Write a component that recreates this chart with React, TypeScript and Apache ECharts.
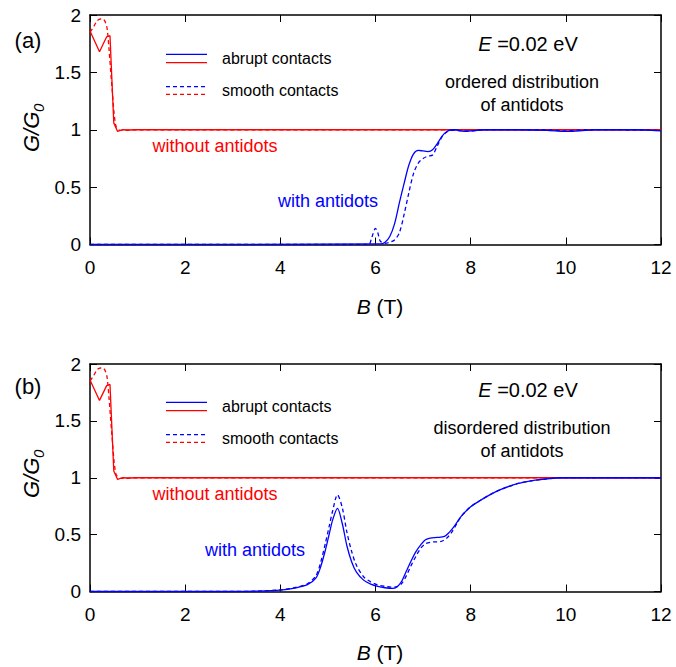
import React, { useEffect, useRef } from "react";
import * as echarts from "echarts";

// ---- data: panel (a) & (b) without antidots (identical in both panels) ----
const RED_SOLID_B = [0, 0.2, 0.35, 0.42, 0.5, 0.58, 0.68, 0.8, 1.0, 12];
const RED_SOLID_G = [1.86, 1.68, 1.81, 1.82, 1.06, 0.985, 1.0, 0.998, 1.0, 1.0];

const RED_DASH_B = [0, 0.08, 0.15, 0.22, 0.27, 0.32, 0.36, 0.4, 0.46, 0.54, 0.63, 0.75, 0.9, 1.2, 12];
const RED_DASH_G = [1.85, 1.9, 1.95, 1.965, 1.965, 1.94, 1.88, 1.7, 1.38, 1.04, 0.995, 0.995, 1.0, 1.0, 1.0];

// ---- panel (a): ordered antidots ----
const A_SOLID_B = [0, 6.1, 6.2, 6.3, 6.4, 6.5, 6.6, 6.7, 6.8, 6.9, 7.0, 7.1, 7.2, 7.3, 7.4, 7.5, 7.6, 7.7, 7.8, 7.9, 8.0, 8.3, 9.0, 9.6, 10.0, 10.3, 10.6, 11.5, 11.8, 12];
const A_SOLID_G = [0, 0.005, 0.02, 0.07, 0.18, 0.36, 0.53, 0.69, 0.79, 0.82, 0.815, 0.81, 0.825, 0.88, 0.945, 0.985, 1.0, 1.0, 0.99, 0.985, 0.99, 1.0, 1.0, 0.995, 0.985, 0.99, 1.0, 1.0, 0.995, 0.99];

const A_DASH_B = [0, 5.85, 5.92, 6.0, 6.05, 6.1, 6.2, 6.3, 6.4, 6.5, 6.6, 6.7, 6.8, 6.9, 7.0, 7.1, 7.2, 7.3, 7.4, 7.5, 7.6, 7.8, 8.0, 8.3, 9.6, 10.0, 10.4, 12];
const A_DASH_G = [0, 0, 0.06, 0.14, 0.1, 0.03, 0.01, 0.02, 0.04, 0.1, 0.26, 0.45, 0.62, 0.71, 0.75, 0.77, 0.78, 0.86, 0.94, 0.98, 0.995, 0.99, 0.99, 1.0, 1.0, 0.99, 1.0, 0.995];

// ---- panel (b): disordered antidots ----
const B_SOLID_B = [0, 3.0, 3.5, 4.0, 4.3, 4.57, 4.75, 4.85, 4.95, 5.03, 5.1, 5.2, 5.3, 5.4, 5.5, 5.6, 5.75, 5.9, 6.05, 6.2, 6.35, 6.45, 6.55, 6.65, 6.75, 6.85, 6.95, 7.05, 7.15, 7.3, 7.45, 7.55, 7.65, 7.8, 8.0, 8.2, 8.4, 8.65, 9.0, 9.3, 9.6, 9.9, 10.5, 12];
const B_SOLID_G = [0, 0.0, 0.003, 0.012, 0.03, 0.06, 0.12, 0.22, 0.37, 0.51, 0.63, 0.73, 0.6, 0.4, 0.26, 0.17, 0.1, 0.065, 0.045, 0.033, 0.027, 0.04, 0.09, 0.18, 0.27, 0.35, 0.41, 0.455, 0.47, 0.475, 0.485, 0.52, 0.57, 0.66, 0.745, 0.8, 0.85, 0.9, 0.95, 0.975, 0.99, 1.0, 1.0, 1.0];

const B_DASH_B = [0, 3.0, 3.5, 4.0, 4.3, 4.57, 4.75, 4.85, 4.95, 5.03, 5.1, 5.2, 5.3, 5.4, 5.5, 5.6, 5.75, 5.9, 6.05, 6.2, 6.33, 6.45, 6.55, 6.65, 6.75, 6.85, 6.95, 7.05, 7.2, 7.38, 7.5, 7.6, 7.7, 7.8, 8.0, 8.2, 8.4, 8.65, 9.0, 9.3, 9.6, 9.9, 10.5, 12];
const B_DASH_G = [0, 0.0, 0.003, 0.014, 0.034, 0.068, 0.14, 0.26, 0.43, 0.58, 0.71, 0.85, 0.74, 0.52, 0.35, 0.23, 0.13, 0.085, 0.058, 0.045, 0.038, 0.042, 0.07, 0.14, 0.23, 0.31, 0.38, 0.42, 0.435, 0.44, 0.47, 0.52, 0.59, 0.66, 0.745, 0.8, 0.85, 0.9, 0.95, 0.975, 0.99, 1.0, 1.0, 1.0];

const X_TICKS = [0, 2, 4, 6, 8, 10, 12];
const Y_TICKS = [0, 0.5, 1, 1.5, 2];

const FONT = "Liberation Sans, Arial, Helvetica, sans-serif";
const RED = "#ff0000";
const BLUE = "#0000ff";

function pairs(xs: number[], ys: number[]) {
  return xs.map((x, i) => [x, ys[i]]);
}

function buildOption() {
  const grids = [
    { left: 90, top: 15, width: 571, height: 229.5 },
    { left: 90, top: 364, width: 571, height: 227.5 },
  ];
  const axisLine = { show: true, onZero: false, lineStyle: { color: "#000", width: 1.5 } };
  const axisTick = { show: true, inside: true, length: 7, lineStyle: { color: "#000", width: 1 } };
  const xAxes: any[] = [];
  const yAxes: any[] = [];
  grids.forEach((_, gi) => {
    xAxes.push({
      gridIndex: gi, type: "value", min: X_TICKS[0], max: X_TICKS[X_TICKS.length - 1], interval: 2,
      position: "bottom", axisLine, axisTick, splitLine: { show: false },
      axisLabel: { color: "#000", fontSize: 19, fontFamily: FONT, margin: 13 },
    });
    xAxes.push({
      gridIndex: gi, type: "value", min: 0, max: 12, interval: 2,
      position: "top", axisLine, axisTick, splitLine: { show: false },
      axisLabel: { show: false },
    });
    yAxes.push({
      gridIndex: gi, type: "value", min: Y_TICKS[0], max: Y_TICKS[Y_TICKS.length - 1], interval: 0.5,
      position: "left", axisLine, axisTick, splitLine: { show: false },
      axisLabel: { color: "#000", fontSize: 19, fontFamily: FONT, margin: 9 },
    });
    yAxes.push({
      gridIndex: gi, type: "value", min: 0, max: 2, interval: 0.5,
      position: "right", axisLine, axisTick, splitLine: { show: false },
      axisLabel: { show: false },
    });
  });

  const line = (gi: number, data: number[][], color: string, dashed: boolean, smooth: number | boolean) => ({
    type: "line",
    xAxisIndex: gi * 2,
    yAxisIndex: gi * 2,
    data,
    showSymbol: false,
    symbol: "none",
    smooth,
    lineStyle: { color, width: 1.3, type: dashed ? [4, 3] : "solid" },
    z: 3,
  });

  const series = [
    line(0, pairs(RED_SOLID_B, RED_SOLID_G), RED, false, false),
    line(0, pairs(RED_DASH_B, RED_DASH_G), RED, true, 0.3),
    line(0, pairs(A_SOLID_B, A_SOLID_G), BLUE, false, 0.3),
    line(0, pairs(A_DASH_B, A_DASH_G), BLUE, true, 0.3),
    line(1, pairs(RED_SOLID_B, RED_SOLID_G), RED, false, false),
    line(1, pairs(RED_DASH_B, RED_DASH_G), RED, true, 0.3),
    line(1, pairs(B_SOLID_B, B_SOLID_G), BLUE, false, 0.3),
    line(1, pairs(B_DASH_B, B_DASH_G), BLUE, true, 0.3),
  ];

  const txt = (x: number, y: number, text: string, size: number, fill = "#000", align = "center", extra: any = {}) => ({
    type: "text", x, y, silent: true,
    style: { text, fontSize: size, fontFamily: FONT, fill, align, verticalAlign: "middle", ...extra },
  });
  const seg = (x1: number, x2: number, y: number, stroke: string, dashed: boolean) => ({
    type: "line", silent: true,
    shape: { x1, y1: y, x2, y2: y },
    style: { stroke, lineWidth: 1.3, lineDash: dashed ? [4, 3] : null },
  });

  const panelGraphics = (dy: number, ldy: number, label: string, desc: string) => [
    txt(28, 40 + dy, label, 22),
    seg(166, 207, 54.3 + ldy, BLUE, false),
    seg(166, 207, 62.7 + ldy, RED, false),
    seg(166, 207, 86.7 + ldy, BLUE, true),
    seg(166, 207, 94.3 + ldy, RED, true),
    txt(222, 58 + ldy, "abrupt contacts", 16, "#000", "left"),
    txt(222, 90 + ldy, "smooth contacts", 16, "#000", "left"),
    txt(528, 44 + dy, "{i|E} =0.02 eV", 20, "#000", "center", {
      rich: { i: { fontStyle: "italic", fontSize: 20, fontFamily: FONT, fill: "#000" } },
    }),
    txt(522, 82 + dy, desc, 18),
    txt(522, 105 + dy, "of antidots", 18),
    txt(380, 306 + dy, "{i|B} (T)", 21, "#000", "center", {
      rich: { i: { fontStyle: "italic", fontSize: 21, fontFamily: FONT, fill: "#000" } },
    }),
    {
      type: "group", x: 31, y: 127 + dy, rotation: Math.PI / 2, silent: true,
      children: [
        { type: "text", x: -25, y: 0, style: { text: "G/G", fontSize: 22, fontStyle: "italic", fontFamily: FONT, fill: "#000", align: "left", verticalAlign: "middle" } },
        { type: "text", x: 15, y: 7, style: { text: "0", fontSize: 15, fontStyle: "italic", fontFamily: FONT, fill: "#000", align: "left", verticalAlign: "middle" } },
      ],
    },
  ];

  const graphic = [
    ...panelGraphics(0, 0, "(a)", "ordered distribution"),
    ...panelGraphics(346, 348, "(b)", "disordered distribution"),
    txt(215, 146, "without antidots", 18, RED),
    txt(328, 201, "with antidots", 18, BLUE),
    txt(215, 494, "without antidots", 18, RED),
    txt(255, 550, "with antidots", 18, BLUE),
  ];

  return {
    animation: false,
    backgroundColor: "#fff",
    grid: grids,
    xAxis: xAxes,
    yAxis: yAxes,
    series,
    graphic,
  };
}

export default function App() {
  const ref = useRef<HTMLDivElement>(null);
  useEffect(() => {
    if (!ref.current) return;
    const chart = echarts.init(ref.current, null, { renderer: "svg" });
    chart.setOption(buildOption() as any);
    return () => chart.dispose();
  }, []);
  return (
    <div
      ref={ref}
      style={{ position: "fixed", left: 0, top: 0, width: 676, height: 667, background: "#fff" }}
    />
  );
}
